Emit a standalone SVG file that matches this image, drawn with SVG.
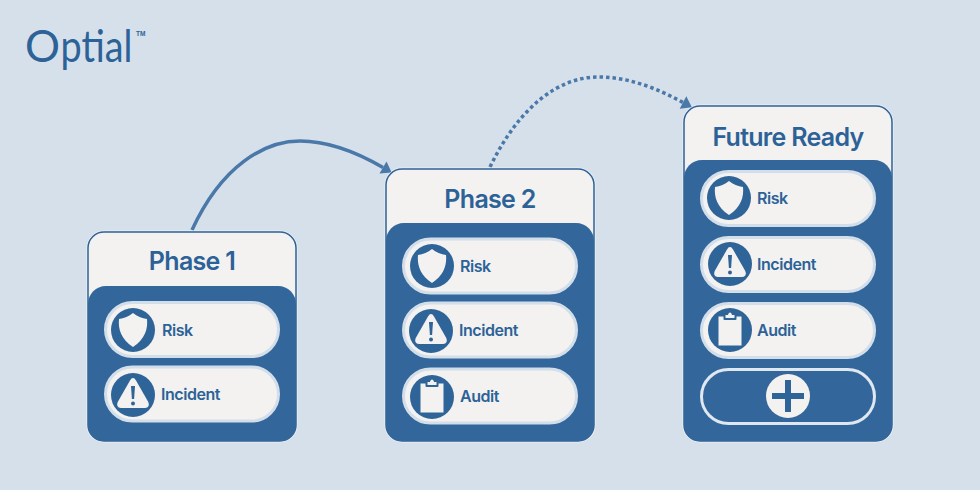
<svg xmlns="http://www.w3.org/2000/svg" xmlns:xlink="http://www.w3.org/1999/xlink" width="980" height="490" viewBox="0 0 980 490">
<style>
.halo{fill:none;stroke:#fff;stroke-width:3;stroke-opacity:.55}
.head{fill:#f3f2f0;stroke:#2c6297;stroke-width:1.5}
.body{fill:#33669a}
.pill{fill:#f3f2f0;stroke:#d3deeb;stroke-width:3}
.pillb{fill:#33669a;stroke:#dfe7f0;stroke-width:3}
.disc{fill:#2f6499}
.ic{fill:#f3f2f0}
.title{font-family:"Inter","Liberation Sans",sans-serif;font-weight:600;font-size:25px;fill:#2c6297;text-anchor:middle;letter-spacing:-0.7px}
.lbl{font-family:"Inter","Liberation Sans",sans-serif;font-weight:600;font-size:16px;fill:#2c6297;letter-spacing:-0.45px}
.conn{fill:none;stroke:#4a78a8}
.logo{font-family:Lato,sans-serif;font-weight:400;font-size:45px;fill:#2c6297}
</style>
<defs>
<marker id="ah" markerUnits="userSpaceOnUse" markerWidth="16" markerHeight="18" refX="1" refY="9" orient="auto"><path d="M1 2L11 9L1 16Z" fill="#4a78a8"/></marker>
<g id="shield"><circle r="22" class="disc"/><path class="ic" d="M0-17C4-14 9-11.500 14-11C15-1 12 9 0 17C-12 9-15-1-14-11C-9-11.500-4-14 0-17Z"/></g>
<g id="warn"><circle r="22" class="disc"/><path class="ic" d="M0-17C1.200-17 2-16.200 3-14.500L15 6.500C16.800 10 15.500 13 12 13L-12 13C-15.500 13-16.800 10-15 6.500L-3-14.500C-2-16.200-1.200-17 0-17Z"/><path class="disc" d="M-2-9L2-9L1.100 4L-1.100 4Z"/><circle cy="8.500" r="2" class="disc"/></g>
<g id="clip"><circle r="22" class="disc"/><path class="ic" d="M-11.500-13.500L11.500-13.500L11.500 15.500L-11.500 15.500Z"/><rect x="-6.500" y="-15" width="13" height="5" rx="1" class="disc"/><path class="ic" d="M-4.500-15L-2-15C-1.500-18.500 1.500-18.500 2-15L4.500-15L4.500-12L-4.500-12Z"/></g>
</defs>
<rect width="980" height="490" fill="#d6e0eb"/>
<g id="logo">
<text class="logo" x="25" y="62" textLength="35" lengthAdjust="spacingAndGlyphs">O</text>
<text class="logo" transform="translate(60.500 62) scale(.84 1)">ptial</text>
<text x="136" y="36" font-family="Liberation Sans,sans-serif" font-weight="700" font-size="6.500" fill="#2c6297">TM</text>
</g>
<g id="connectors">
<path class="conn" stroke-width="3.500" marker-end="url(#ah)" d="M192 230C222 165 265 141 300 141C330 141 358 153 383 167.500"/>
<path class="conn" stroke-width="3.500" stroke-dasharray="3.500 3" marker-end="url(#ah)" d="M490 167C520 105 560 77 598 77C630 77 658 89 683 102.500"/>
</g>
<g id="phase1">
<rect class="halo" x="88" y="232" width="208" height="209" rx="16"/>
<rect class="head" x="88" y="232" width="208" height="209" rx="16"/>
<path class="body" d="M88 304C88 294 96 286 106 286L278 286C288 286 296 294 296 304L296 425C296 434 289 441 280 441L104 441C95 441 88 434 88 425Z"/>
<text class="title" x="192" y="270">Phase 1</text>
<g id="p1-risk"><rect class="pill" x="105.500" y="302.500" width="173" height="54" rx="27"/><use xlink:href="#shield" href="#shield" x="133" y="330"/><text class="lbl" x="162" y="336">Risk</text></g>
<g id="p1-incident"><rect class="pill" x="105.500" y="367" width="173" height="54" rx="27"/><use xlink:href="#warn" href="#warn" x="133" y="395"/><text class="lbl" x="161" y="400">Incident</text></g>
</g>
<g id="phase2">
<rect class="halo" x="386" y="169" width="208" height="272" rx="16"/>
<rect class="head" x="386" y="169" width="208" height="272" rx="16"/>
<path class="body" d="M386 241C386 231 394 223 404 223L576 223C586 223 594 231 594 241L594 425C594 434 587 441 578 441L402 441C393 441 386 434 386 425Z"/>
<text class="title" x="490" y="208">Phase 2</text>
<g id="p2-risk"><rect class="pill" x="403.500" y="239" width="173" height="54" rx="27"/><use xlink:href="#shield" href="#shield" x="432" y="266"/><text class="lbl" x="460" y="272">Risk</text></g>
<g id="p2-incident"><rect class="pill" x="403.500" y="303" width="173" height="54" rx="27"/><use xlink:href="#warn" href="#warn" x="431" y="331"/><text class="lbl" x="459" y="336">Incident</text></g>
<g id="p2-audit"><rect class="pill" x="403.500" y="369" width="173" height="54" rx="27"/><use xlink:href="#clip" href="#clip" x="432" y="397"/><text class="lbl" x="460" y="402">Audit</text></g>
</g>
<g id="future-ready">
<rect class="halo" x="684" y="106" width="208" height="335" rx="16"/>
<rect class="head" x="684" y="106" width="208" height="335" rx="16"/>
<path class="body" d="M684 178C684 168 692 160 702 160L874 160C884 160 892 168 892 178L892 425C892 434 885 441 876 441L700 441C691 441 684 434 684 425Z"/>
<text class="title" x="788" y="146">Future Ready</text>
<g id="f-risk"><rect class="pill" x="701.500" y="171.500" width="173" height="54" rx="27"/><use xlink:href="#shield" href="#shield" x="729" y="198"/><text class="lbl" x="757" y="204">Risk</text></g>
<g id="f-incident"><rect class="pill" x="701.500" y="237.500" width="173" height="54" rx="27"/><use xlink:href="#warn" href="#warn" x="730" y="264"/><text class="lbl" x="757" y="270">Incident</text></g>
<g id="f-audit"><rect class="pill" x="701.500" y="303.500" width="173" height="54" rx="27"/><use xlink:href="#clip" href="#clip" x="730" y="330"/><text class="lbl" x="757" y="336">Audit</text></g>
<g id="f-add"><rect class="pillb" x="701.500" y="369.500" width="173" height="54" rx="27"/><circle cx="788" cy="396" r="22" fill="#f3f2f0"/><path d="M772 393L785 393L785 380L791 380L791 393L804 393L804 399L791 399L791 412L785 412L785 399L772 399Z" class="disc"/></g>
</g>
</svg>
